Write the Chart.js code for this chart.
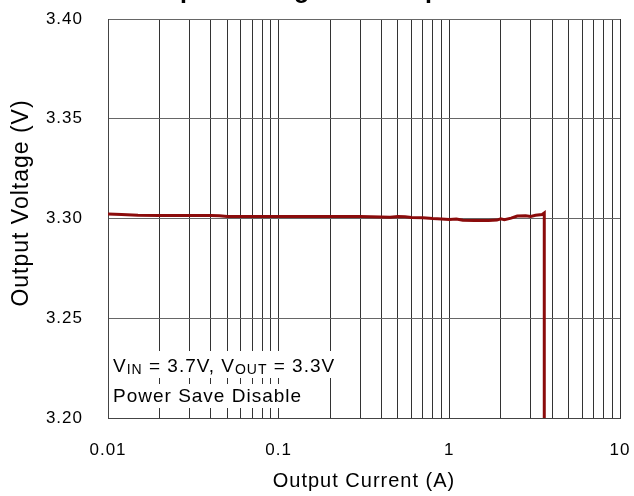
<!DOCTYPE html>
<html>
<head>
<meta charset="utf-8">
<script src="https://cdn.jsdelivr.net/npm/chart.js@4"></script>
<style>
  html, body { margin: 0; padding: 0; background: #fff; }
  #wrap { width: 634px; height: 496px; }
</style>
</head>
<body>
<div id="wrap"><canvas id="myChart" width="634" height="496"></canvas></div>
<script>
// data
const currentA = [0.01, 0.012, 0.015, 0.02, 0.03, 0.04, 0.045, 0.05, 0.07, 0.1, 0.15, 0.2, 0.3, 0.4, 0.45,
  0.5, 0.55, 0.6, 0.7, 0.8, 0.9, 1.0, 1.1, 1.2, 1.4, 1.7, 1.9, 2.0, 2.1, 2.3, 2.5, 2.8, 3.0, 3.2, 3.5, 3.6, 3.6];
const voltageV = [3.3022, 3.3020, 3.3016, 3.3015, 3.3015, 3.3015, 3.3014, 3.3010, 3.3010, 3.3010, 3.3010, 3.3010, 3.3010, 3.3008, 3.3006,
  3.3010, 3.3009, 3.3005, 3.3004, 3.3000, 3.2998, 3.2995, 3.2997, 3.2991, 3.2990, 3.2990, 3.2992, 3.2998, 3.2994, 3.3002, 3.3012, 3.3014, 3.3010, 3.3016, 3.3020, 3.3028, 3.19];

const xTickLabels = [0.01, 0.1, 1, 10];
const yTickValues = [3.20, 3.25, 3.30, 3.35, 3.40];

const chartTitle = "Output Voltage vs. Output Current";
const xTitle = "Output Current (A)";
const yTitle = "Output Voltage (V)";

const FONT = '"Liberation Sans", Arial, sans-serif';

const points = currentA.map((c, i) => ({ x: c, y: voltageV[i] }));

function noPad(scale) {
  scale.paddingTop = 0;
  scale.paddingBottom = 0;
  scale.paddingLeft = 0;
  scale.paddingRight = 0;
}

// extra text: title (cut off at top), y title, condition note
const extras = {
  id: 'extras',
  beforeLayout(chart) { chart.ctx.letterSpacing = '1px'; },
  beforeDraw(chart) { chart.ctx.letterSpacing = '1px'; },
  afterDraw(chart) {
    const ctx = chart.ctx;
    const area = chart.chartArea;
    ctx.save();
    ctx.letterSpacing = '1px';
    ctx.fillStyle = '#000';

    // title, mostly outside the top edge
    ctx.font = 'bold 25px ' + FONT;
    ctx.textAlign = 'center';
    ctx.textBaseline = 'alphabetic';
    ctx.fillText(chartTitle, 353, -2);

    // y axis title
    ctx.save();
    ctx.translate(22, 203);
    ctx.rotate(-Math.PI / 2);
    ctx.font = '23px ' + FONT;
    ctx.textBaseline = 'middle';
    ctx.fillText(yTitle, 0, 0);
    ctx.restore();

    // condition note
    const x0 = area.left + 5;
    const big = '19px ' + FONT;
    const small = '14px ' + FONT;
    const line1 = [['V', big, 0], ['IN', small, 2], [' = 3.7V, V', big, 0], ['OUT', small, 2], [' = 3.3V', big, 0]];
    ctx.textAlign = 'left';
    let w1 = 0;
    line1.forEach(p => { ctx.font = p[1]; w1 += ctx.measureText(p[0]).width; });
    ctx.font = big;
    const line2 = 'Power Save Disable';
    const w2 = ctx.measureText(line2).width;

    ctx.fillStyle = '#fff';
    ctx.fillRect(area.left + 1, 351, w1 + 8, 27);
    ctx.fillRect(area.left + 1, 384, w2 + 8, 24);

    ctx.fillStyle = '#000';
    let x = x0;
    line1.forEach(p => {
      ctx.font = p[1];
      ctx.fillText(p[0], x, 372 + p[2]);
      x += ctx.measureText(p[0]).width;
    });
    ctx.font = big;
    ctx.fillText(line2, x0, 402);
    ctx.restore();
  }
};

new Chart("myChart", {
  type: "line",
  data: {
    datasets: [{
      data: points,
      borderColor: "#8b0b0b",
      borderWidth: 3,
      pointRadius: 0,
      tension: 0,
      fill: false
    }]
  },
  options: {
    responsive: false,
    animation: false,
    layout: { padding: { top: 19, right: 14, left: 0, bottom: 0 } },
    plugins: {
      legend: { display: false },
      tooltip: { enabled: false },
      title: { display: false }
    },
    scales: {
      x: {
        type: "logarithmic",
        min: 0.01,
        max: 10,
        afterBuildTicks(scale) {
          const t = [];
          for (let i = 0; i < xTickLabels.length - 1; i++) {
            for (let m = 1; m <= 9; m++) t.push({ value: +(m * xTickLabels[i]).toPrecision(6) });
          }
          t.push({ value: xTickLabels[xTickLabels.length - 1] });
          scale.ticks = t;
        },
        afterFit(scale) { scale.height = 78; noPad(scale); },
        grid: { color: "#333", lineWidth: 1, drawTicks: false },
        border: { color: "#444", width: 1 },
        ticks: {
          autoSkip: false,
          maxRotation: 0,
          padding: 22,
          color: "#000",
          font: { family: FONT, size: 17 },
          callback: (v) => {
            const hit = xTickLabels.find(l => Math.abs(l - v) < 1e-9);
            return hit === undefined ? "" : String(hit);
          }
        },
        title: {
          display: true,
          text: xTitle,
          color: "#000",
          font: { family: FONT, size: 20 },
          padding: { top: 0, bottom: 3 }
        }
      },
      y: {
        min: 3.2,
        max: 3.4,
        afterBuildTicks(scale) {
          scale.ticks = yTickValues.map(v => ({ value: v }));
        },
        afterFit(scale) { scale.width = 108; noPad(scale); },
        grid: { color: "#666", lineWidth: 1, drawTicks: false },
        border: { color: "#444", width: 1 },
        ticks: {
          padding: 25,
          color: "#000",
          font: { family: FONT, size: 17 },
          callback: (v) => Number(v).toFixed(2)
        }
      }
    }
  },
  plugins: [extras]
});
</script>
</body>
</html>
